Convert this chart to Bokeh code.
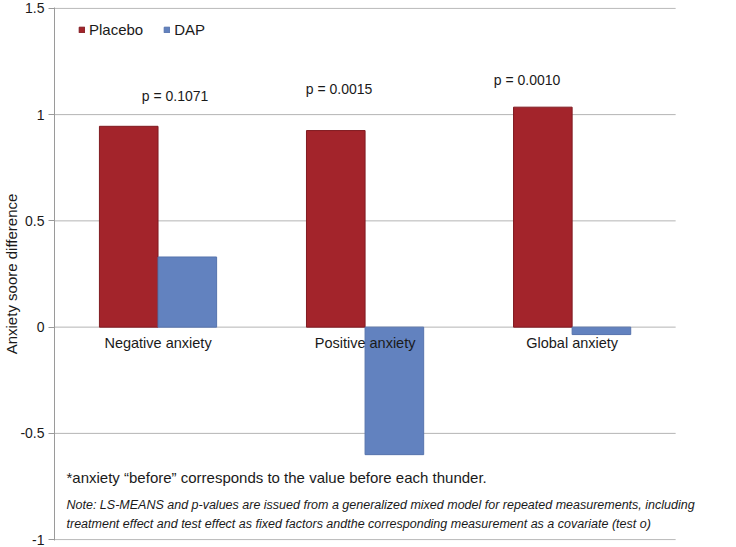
from bokeh.plotting import figure
from bokeh.models import (ColumnDataSource, FixedTicker, CustomJSTickFormatter, Range1d,
                          Legend, LegendItem, Label)
from bokeh.embed import file_html
from bokeh.resources import INLINE
from bokeh.core.properties import value

# ---- data ----
categories = ["Negative anxiety", "Positive anxiety", "Global anxiety"]
placebo = [0.945, 0.925, 1.035]
dap = [0.33, -0.6, -0.035]
p_labels = ["p = 0.1071", "p = 0.0015", "p = 0.0010"]
p_label_y = [1.086, 1.121, 1.161]
p_label_dx = [17, -26, -45]
y_ticks = [-1, -0.5, 0, 0.5, 1, 1.5]
y_title = "Anxiety soore difference"
footnote = "*anxiety \u201cbefore\u201d corresponds to the value before each thunder."
note_lines = [
    "Note: LS-MEANS and p-values are issued from a generalized mixed model for repeated measurements, including",
    "treatment effect and test effect as fixed factors andthe corresponding measurement as a covariate (test o)",
]

FONT = "Liberation Sans"
PLACEBO_COLOR = "#A3242B"
DAP_COLOR = "#6282BF"
TXT = "#1a1a1a"

n = len(categories)
centers = [i + 0.5 for i in range(n)]
bw = 0.283

src = ColumnDataSource(dict(cat=categories, xc=centers,
                            xp=[c - bw / 2 for c in centers], xd=[c + bw / 2 for c in centers],
                            placebo=placebo, dap=dap,
                            plab=p_labels, py=p_label_y, pxo=p_label_dx))

p = figure(width=736, height=547, x_range=Range1d(0, n * 650 / 625), y_range=Range1d(-1.004, 1.504),
           output_backend="svg", toolbar_location=None,
           min_border_left=50, min_border_right=36, min_border_top=7, min_border_bottom=7)
p.outline_line_color = None
p.background_fill_color = "white"
p.xaxis.visible = False
p.xgrid.grid_line_color = None
p.ygrid.grid_line_color = None

# gridlines limited to the category area
p.segment(x0=0, x1=n, y0=y_ticks, y1=y_ticks, line_color="#b4b4b4", line_width=1)

r1 = p.vbar(x="xp", top="placebo", bottom=0, width=bw, source=src,
            fill_color=PLACEBO_COLOR, line_color="#801a20", line_width=1)
r2 = p.vbar(x="xd", top="dap", bottom=0, width=bw, source=src,
            fill_color=DAP_COLOR, line_color="#5673ad", line_width=1)

# y axis
p.yaxis.ticker = FixedTicker(ticks=y_ticks)
p.yaxis.formatter = CustomJSTickFormatter(code="return tick.toString()")
p.yaxis.axis_line_color = "#9a9a9a"
p.yaxis.major_tick_line_color = "#9a9a9a"
p.yaxis.major_tick_out = 6
p.yaxis.major_tick_in = 0
p.yaxis.minor_tick_line_color = None
p.yaxis.major_label_standoff = 4
p.yaxis.major_label_text_font = FONT
p.yaxis.major_label_text_font_size = "14px"
p.yaxis.major_label_text_color = TXT
p.yaxis.axis_label = y_title
p.yaxis.axis_label_standoff = -3
p.yaxis.axis_label_text_font = FONT
p.yaxis.axis_label_text_font_size = "15px"
p.yaxis.axis_label_text_font_style = "normal"
p.yaxis.axis_label_text_color = TXT

# category labels at zero line
p.text(x="xc", y=0, text="cat", source=src, y_offset=16, text_align="center",
       text_baseline="middle", text_font=value(FONT), text_font_size="14.5px", text_color=TXT)
# p-values
p.text(x="xc", y="py", text="plab", source=src, x_offset="pxo", text_align="center",
       text_baseline="middle", text_font=value(FONT), text_font_size="14px", text_color=TXT)

# legend
legend = Legend(items=[LegendItem(label="Placebo", renderers=[r1]),
                       LegendItem(label="DAP", renderers=[r2])],
                orientation="horizontal", location=(24, 502), margin=0, padding=3,
                spacing=20, glyph_width=7, glyph_height=7, label_standoff=4,
                label_text_font=FONT, label_text_font_size="15px", label_text_color=TXT,
                border_line_color=None, background_fill_alpha=0)
p.add_layout(legend)

# footnotes
p.add_layout(Label(x=12, y=63.5, x_units="screen", y_units="screen", text=footnote,
                   text_baseline="middle", text_font=FONT, text_font_size="15px",
                   text_color=TXT))
for txt, yy in zip(note_lines, [35.5, 16.5]):
    p.add_layout(Label(x=12, y=yy, x_units="screen", y_units="screen", text=txt,
                       text_baseline="middle", text_font=FONT, text_font_size="12.5px",
                       text_font_style="italic", text_color=TXT))

open("out.html", "w").write(file_html(p, INLINE))
